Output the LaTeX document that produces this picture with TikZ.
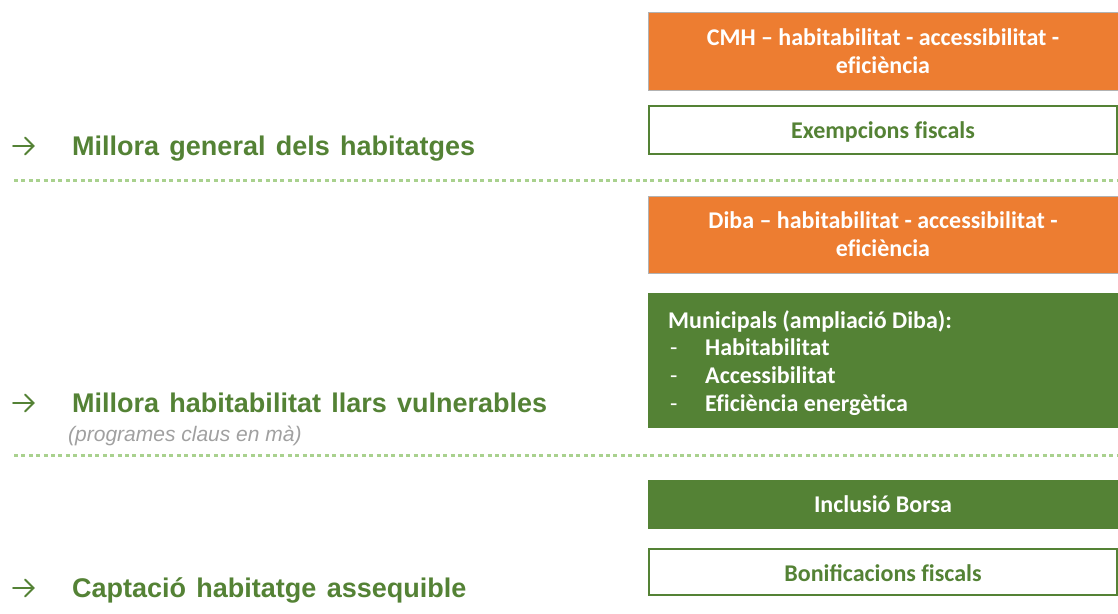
\documentclass[tikz,border=0pt]{standalone}
\usepackage{fontspec}
\setmainfont{Liberation Sans}
\newfontfamily\boxfont{Carlito}
\definecolor{orng}{HTML}{ED7D31}
\definecolor{dgreen}{HTML}{548235}
\definecolor{lgreen}{HTML}{A9D18E}
\definecolor{gry}{HTML}{A0A0A0}
\newcommand{\nofi}{f\kern0pt i}
\begin{document}
\begin{tikzpicture}[x=1pt,y=-1pt,
  boxbase/.style={minimum width=470pt, inner sep=0pt, align=center, font=\boxfont\bfseries\fontsize{24}{28}\selectfont},
  orangebox/.style={boxbase, fill=orng, draw=gray!60, line width=0.6pt, text=white},
  greenbox/.style={boxbase, fill=dgreen, text=white},
  whitebox/.style={boxbase, fill=white, draw=dgreen, line width=2.5pt, text=dgreen},
  heading/.style={anchor=base west, inner sep=0pt, text=dgreen, font=\bfseries\fontsize{27}{30}\selectfont},
  listline/.style={anchor=base west, inner sep=0pt, text=white, font=\boxfont\bfseries\fontsize{24}{28}\selectfont},
  dashmark/.style={listline, font=\boxfont\fontsize{24}{28}\selectfont},
  boxlabel/.style={inner sep=0pt, font=\boxfont\bfseries\fontsize{24}{28}\selectfont},
  sep/.style={lgreen, line width=3pt, dash pattern=on 4pt off 3.4pt},
  pointer/.style={dgreen, line width=1.8pt, line cap=round, line join=miter}
]
\useasboundingbox (0,0) rectangle (1118,613);
% right column boxes
\node[orangebox, minimum height=78pt] (cmh) at (883,51) {CMH – habitabilitat - accessibilitat -\\e\nofi ciència};
\node[whitebox, minimum height=48pt, minimum width=468pt] (exe) at (883,130) {};
\node[boxlabel, text=dgreen] (exet) at (883,132) {Exempcions \nofi scals};
\node[orangebox, minimum height=77pt] (diba) at (883,234.5) {Diba – habitabilitat - accessibilitat -\\e\nofi ciència};
\node[greenbox, minimum height=135pt] (muni) at (883,360.5) {};
\node[listline] (m0) at (668,328) {Municipals (ampliació Diba):};
\node[dashmark] (d1) at (670,355) {-};
\node[listline] (m1) at (705,355) {Habitabilitat};
\node[dashmark] (d2) at (670,383) {-};
\node[listline] (m2) at (705,383) {Accessibilitat};
\node[dashmark] (d3) at (670,411) {-};
\node[listline] (m3) at (705,411) {E\nofi ciència energètica};
\node[greenbox, minimum height=49pt] (incl) at (883,504.5) {Inclusió Borsa};
\node[whitebox, minimum height=46pt, minimum width=468pt] (bon) at (883,572) {};
\node[boxlabel, text=dgreen] (bont) at (883,573.5) {Bonificacions \nofi scals};
% separators
\coordinate (s1a) at (14,180); \coordinate (s1b) at (1118,180);
\coordinate (s2a) at (14,455.5); \coordinate (s2b) at (1118,455.5);
\draw[sep] (s1a) -- (s1b);
\draw[sep] (s2a) -- (s2b);
% arrows (glyph-like)
\foreach \yy in {146,403,588}{
  \draw[pointer] (13,\yy) -- (33,\yy);
  \draw[pointer] (25,\yy-8.5) -- (33.5,\yy) -- (25,\yy+8.5);
}
% left headings
\node[heading] (h1) at (72,155) {Millora\hspace{0.38em}general\hspace{0.38em}dels\hspace{0.38em}habitatges};
\node[heading] (h2) at (72,412) {Millora\hspace{0.38em}habitabilitat\hspace{0.38em}llars\hspace{0.38em}vulnerables};
\node[anchor=base west, inner sep=0pt, text=gry, font=\itshape\fontsize{21}{24}\selectfont] (sub) at (68,441) {(programes claus en mà)};
\node[heading] (h3) at (72,597) {Captació\hspace{0.38em}habitatge\hspace{0.38em}assequible};
\end{tikzpicture}
\end{document}
